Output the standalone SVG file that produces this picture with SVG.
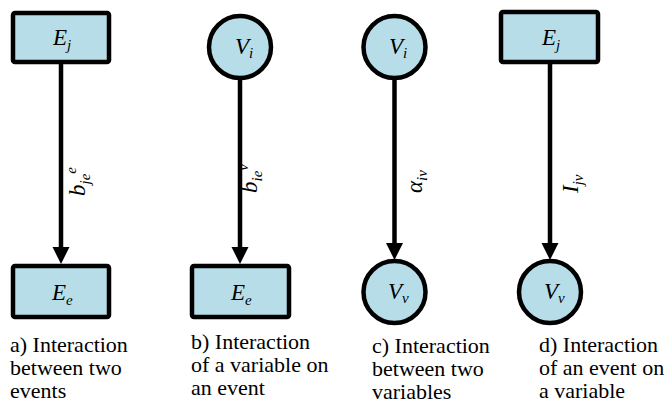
<svg xmlns="http://www.w3.org/2000/svg" width="667" height="414" viewBox="0 0 667 414">
<rect width="667" height="414" fill="#fff"/>
<g id="captions" font-family="Times New Roman, serif" font-size="22" fill="#000">
<text x="10" y="352" font-family="serif">a) Interaction</text>
<text x="10" y="375" font-family="serif">between two</text>
<text x="10" y="398" font-family="serif">events</text>
<text x="191" y="349" font-family="serif">b) Interaction</text>
<text x="191" y="372" font-family="serif">of a variable on</text>
<text x="191" y="395" font-family="serif">an event</text>
<text x="372" y="353" font-family="serif">c) Interaction</text>
<text x="372" y="376" font-family="serif">between two</text>
<text x="372" y="399" font-family="serif">variables</text>
<text x="539" y="352" font-family="serif">d) Interaction</text>
<text x="539" y="375" font-family="serif">of an event on</text>
<text x="539" y="398" font-family="serif">a variable</text>
</g>
<g id="connectors">
<line x1="61" y1="64" x2="61" y2="250" stroke="#000" stroke-width="4.5"/>
<polygon points="52.5,247 69.5,247 61,264" fill="#000"/>
<line x1="240" y1="78" x2="240" y2="250" stroke="#000" stroke-width="4.5"/>
<polygon points="231.5,247 248.5,247 240,264" fill="#000"/>
<line x1="394.5" y1="78" x2="394.5" y2="246" stroke="#000" stroke-width="4.5"/>
<polygon points="386,243 403,243 394.5,260" fill="#000"/>
<line x1="550" y1="64" x2="550" y2="246" stroke="#000" stroke-width="4.5"/>
<polygon points="541.5,243 558.5,243 550,260" fill="#000"/>
<text font-family="serif" font-style="italic" font-size="23" transform="translate(85,196) rotate(-90)">b<tspan font-size="15" dy="5">je</tspan><tspan font-size="15" dy="-14">e</tspan></text>
<text font-family="serif" font-style="italic" font-size="23" transform="translate(257,193) rotate(-90)">b<tspan font-size="15" dy="5">ie</tspan><tspan font-size="15" dy="-14">v</tspan></text>
<text font-family="serif" font-style="italic" font-size="23" transform="translate(422,193) rotate(-90)">α<tspan font-size="15" dy="5">iv</tspan></text>
<text font-family="serif" font-style="italic" font-size="23" transform="translate(578,193) rotate(-90)">I<tspan font-size="15" dy="5">jv</tspan></text>
</g>
<g id="Ej_a">
<rect x="13" y="13" width="96" height="49" rx="2" fill="#B7DEE8" stroke="#000" stroke-width="4.5"/>
<text font-family="serif" font-style="italic" font-size="23" x="53" y="45">E<tspan font-size="15" dy="5">j</tspan></text>
</g>
<g id="Ee_a">
<rect x="13" y="266" width="96" height="51" rx="2" fill="#B7DEE8" stroke="#000" stroke-width="4.5"/>
<text font-family="serif" font-style="italic" font-size="23" x="52" y="300">E<tspan font-size="15" dy="5">e</tspan></text>
</g>
<g id="Vi_b">
<circle cx="240" cy="47" r="31" fill="#B7DEE8" stroke="#000" stroke-width="4.5"/>
<text font-family="serif" font-style="italic" font-size="23" x="235" y="54">V<tspan font-size="15" dy="4">i</tspan></text>
</g>
<g id="Ee_b">
<rect x="192" y="266" width="97" height="51" rx="2" fill="#B7DEE8" stroke="#000" stroke-width="4.5"/>
<text font-family="serif" font-style="italic" font-size="23" x="231" y="300">E<tspan font-size="15" dy="5">e</tspan></text>
</g>
<g id="Vi_c">
<circle cx="394.5" cy="47" r="31" fill="#B7DEE8" stroke="#000" stroke-width="4.5"/>
<text font-family="serif" font-style="italic" font-size="23" x="389" y="54">V<tspan font-size="15" dy="4">i</tspan></text>
</g>
<g id="Vv_c">
<circle cx="394.5" cy="292" r="31" fill="#B7DEE8" stroke="#000" stroke-width="4.5"/>
<text font-family="serif" font-style="italic" font-size="23" x="388" y="299">V<tspan font-size="15" dy="4">v</tspan></text>
</g>
<g id="Ej_d">
<rect x="501" y="12" width="97" height="50" rx="2" fill="#B7DEE8" stroke="#000" stroke-width="4.5"/>
<text font-family="serif" font-style="italic" font-size="23" x="542" y="45">E<tspan font-size="15" dy="5">j</tspan></text>
</g>
<g id="Vv_d">
<circle cx="550" cy="292" r="31" fill="#B7DEE8" stroke="#000" stroke-width="4.5"/>
<text font-family="serif" font-style="italic" font-size="23" x="544" y="299">V<tspan font-size="15" dy="4">v</tspan></text>
</g>
</svg>
